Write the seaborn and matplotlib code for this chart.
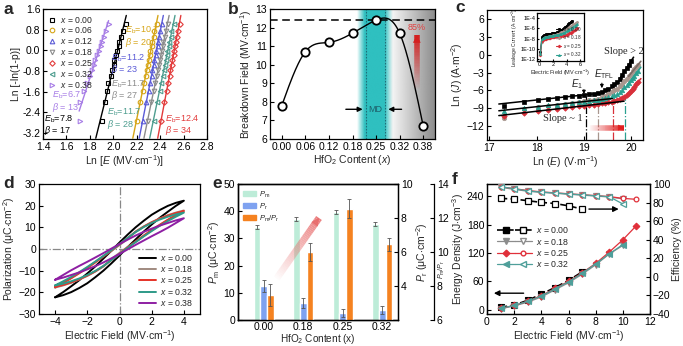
import numpy as np
import seaborn as sns
import matplotlib.pyplot as plt
import matplotlib.colors as mcolors
from matplotlib.collections import LineCollection
from matplotlib.legend_handler import HandlerTuple
from matplotlib.lines import Line2D
from matplotlib.patches import Patch

# ---------------- (a) Weibull plots ----------------
weibull_y = [-2.740, -2.013, -1.572, -1.246, -0.982, -0.755, -0.553, -0.367,
             -0.190, -0.019, 0.151, 0.327, 0.515, 0.732, 1.020]
lnE_000 = [1.905, 1.925, 1.948, 1.958, 1.980, 1.988, 2.006, 2.010, 2.027, 2.031, 2.047, 2.052, 2.068, 2.083, 2.105]
lnE_006 = [2.200, 2.226, 2.252, 2.260, 2.278, 2.284, 2.298, 2.301, 2.314, 2.317, 2.330, 2.333, 2.346, 2.351, 2.370]
lnE_012 = [2.253, 2.278, 2.303, 2.311, 2.328, 2.333, 2.347, 2.350, 2.363, 2.365, 2.378, 2.380, 2.393, 2.398, 2.416]
lnE_018 = [2.295, 2.321, 2.347, 2.355, 2.373, 2.379, 2.393, 2.396, 2.409, 2.412, 2.425, 2.428, 2.441, 2.446, 2.465]
lnE_025 = [2.410, 2.433, 2.458, 2.465, 2.482, 2.487, 2.500, 2.503, 2.515, 2.517, 2.529, 2.532, 2.544, 2.549, 2.566]
lnE_032 = [2.344, 2.370, 2.397, 2.405, 2.423, 2.429, 2.443, 2.446, 2.459, 2.462, 2.475, 2.478, 2.491, 2.496, 2.515]
lnE_038 = [1.720, 1.712, 1.754, 1.774, 1.801, 1.815, 1.836, 1.846, 1.865, 1.874, 1.892, 1.901, 1.921, 1.934, 1.962]
weibull_labels = ["0.00", "0.06", "0.12", "0.18", "0.25", "0.32", "0.38"]
eb_values = ["7.8", "10.7", "11.2", "11.7", "12.4", "11.7", "6.7"]
beta_values = ["17", "20", "23", "27", "34", "28", "13"]

# ---------------- (b) breakdown field ----------------
hfo2_content = ["0.00", "0.06", "0.12", "0.18", "0.25", "0.32", "0.38"]
breakdown_field = [7.8, 10.7, 11.2, 11.7, 12.4, 11.7, 6.7]

# ---------------- (c) leakage current ----------------
field_c = [0.1, 0.33, 0.5, 0.67, 0.83, 1.0, 1.2, 1.4, 1.6, 1.8, 2.0, 2.2, 2.4, 2.6, 2.8,
           3.0, 3.2, 3.4, 3.6, 3.8, 4.0, 4.2, 4.4, 4.6, 4.8, 5.0, 5.2, 5.4, 5.6]
lnJ_000 = [-15.0, -8.6, -7.9, -7.6, -7.4, -7.25, -7.1, -7.0, -6.9, -6.8, -6.7, -6.55, -6.4,
           -6.2, -6.0, -5.7, -5.3, -5.0, -4.6, -4.0, -3.4, -2.8, -2.3, -1.7, -1.1]
lnJ_018 = [-15.8, -10.7, -9.1, -8.8, -8.6, -8.45, -8.3, -8.15, -8.0, -7.85, -7.7, -7.55, -7.4,
           -7.2, -6.95, -6.7, -6.35, -6.0, -5.7, -5.3, -4.9, -4.5, -4.1, -3.6, -3.2, -2.8,
           -2.4, -2.0, -1.7]
lnJ_025 = [-16.3, -10.4, -9.8, -9.5, -9.3, -9.15, -9.0, -8.85, -8.7, -8.6, -8.5, -8.4, -8.3,
           -8.2, -8.1, -8.0, -7.9, -7.8, -7.65, -7.5, -7.3, -7.05, -6.8, -6.5, -6.15, -5.8,
           -5.4, -5.0, -4.6]
lnJ_032 = [-16.0, -9.5, -9.0, -8.75, -8.55, -8.4, -8.25, -8.1, -8.0, -7.9, -7.8, -7.7, -7.6,
           -7.5, -7.35, -7.2, -7.0, -6.8, -6.55, -6.25, -5.9, -5.5, -5.1, -4.7, -4.3, -3.9,
           -3.5, -3.1, -2.7]
leak_labels = ["0.00", "0.18", "0.25", "0.32"]
transition_lnE = [19.05, 19.30, 19.62, 19.87]
transition_lnJ = [-6.9, -7.5, -7.2, -7.3]

# ---------------- (d) P-E loops (rising branch) ----------------
field_loop = [-4.0, -3.5, -3.0, -2.5, -2.0, -1.5, -1.0, -0.5, 0.0, 0.5, 1.0, 1.5, 2.0, 2.5, 3.0, 3.5, 4.0]
pol_000 = [-22.3, -21.3, -19.9, -18.0, -15.8, -13.0, -10.0, -6.6, -3.0, 0.8, 4.4, 8.0, 11.3, 14.4, 17.2, 19.9, 22.3]
pol_018 = [-17.8, -16.8, -15.6, -14.1, -12.4, -10.4, -8.1, -4.6, -1.8, 0.9, 3.2, 5.9, 8.5, 11.0, 13.4, 15.7, 17.8]
pol_025 = [-17.5, -16.6, -15.4, -14.0, -12.3, -10.3, -7.9, -5.1, -2.2, 0.7, 3.5, 6.2, 8.8, 11.2, 13.5, 15.6, 17.5]
pol_032 = [-16.8, -16.0, -14.9, -13.6, -12.0, -10.1, -7.8, -5.1, -2.3, 0.5, 3.2, 5.8, 8.3, 10.7, 12.9, 14.9, 16.8]
pol_038 = [-14.2, -13.2, -12.0, -10.8, -9.4, -7.9, -6.2, -4.3, -2.3, -0.2, 1.9, 3.9, 5.9, 7.8, 9.8, 12.0, 14.2]
loop_labels = ["0.00", "0.18", "0.25", "0.32", "0.38"]

# ---------------- (e) polarization bars ----------------
content_e = ["0.00", "0.18", "0.25", "0.32"]
pm = [34.2, 37.1, 39.7, 35.2]
pm_err = [0.8, 0.7, 0.7, 0.7]
pr = [4.0, 3.0, 2.4, 2.6]
pr_err = [0.35, 0.28, 0.22, 0.24]
pm_pr = [7.45, 10.0, 12.55, 10.45]
pm_pr_err = [0.65, 0.5, 0.55, 0.4]

# ---------------- (f) energy storage ----------------
field_f = [1, 2, 3, 4, 5, 6, 7, 8, 9, 10, 11]
energy_000 = [5, 10, 20, 33, 47, 62, 80]
eff_000 = [84.5, 83.8, 82.0, 80.2, 79.0, 76.5, 73.0]
energy_018 = [2, 8, 16, 27, 42, 57, 75, 95, 118, 136]
eff_018 = [96.5, 94.2, 92.2, 91.0, 90.0, 89.0, 88.0, 87.0, 86.0, 84.0]
energy_025 = [3, 9, 18, 30, 45, 60, 78, 98, 122, 148, 178]
eff_025 = [97.0, 95.0, 93.0, 91.5, 90.5, 89.5, 88.5, 87.5, 86.5, 84.5, 83.5]
energy_032 = [3, 9, 18, 29, 44, 59, 77, 97, 118, 138]
eff_032 = [97.0, 95.0, 92.5, 91.3, 90.3, 89.3, 88.3, 87.3, 86.3, 78.5]

sns.set_style("ticks", {"xtick.direction": "in", "ytick.direction": "in"})
plt.rcParams["font.family"] = ["Liberation Sans", "DejaVu Sans"]
plt.rcParams["mathtext.fontset"] = "custom"
plt.rcParams["mathtext.rm"] = "Liberation Sans"
plt.rcParams["mathtext.it"] = "Liberation Sans:italic"
plt.rcParams["mathtext.bf"] = "Liberation Sans:bold"
plt.rcParams["axes.edgecolor"] = "black"
plt.rcParams["axes.linewidth"] = 0.9
plt.rcParams["xtick.color"] = "black"
plt.rcParams["ytick.color"] = "black"

W, H = 683, 346
fig = plt.figure(figsize=(W / 100, H / 100), dpi=100)


def px_axes(l, t, r, b):
    return fig.add_axes([l / W, 1 - b / H, (r - l) / W, (b - t) / H])


def style(ax, size=7.5):
    ax.tick_params(direction="in", length=3, width=0.8, labelsize=size, pad=2)
    for s in ax.spines.values():
        s.set_linewidth(0.9)
        s.set_color("black")


def grad_arrow(ax, x0, y0, x1, y1, color, lw, head=10, amax=1.0):
    n = 40
    xs = np.linspace(x0, x1, n + 1)
    ys = np.linspace(y0, y1, n + 1)
    segs = [[(xs[i], ys[i]), (xs[i + 1], ys[i + 1])] for i in range(n)]
    rgba = np.tile(mcolors.to_rgba(color), (n, 1))
    rgba[:, 3] = np.linspace(0.0, amax, n)
    ax.add_collection(LineCollection(segs, colors=rgba, linewidths=lw, capstyle="butt", zorder=4))
    ax.annotate("", xy=(x1, y1), xytext=(xs[-2], ys[-2]),
                arrowprops=dict(arrowstyle="-|>", color=color, alpha=amax, lw=0.5,
                                mutation_scale=head, shrinkA=0, shrinkB=0), zorder=5)


def nat_spline(x, y, xs):
    x = np.asarray(x, float)
    y = np.asarray(y, float)
    n = len(x)
    h = np.diff(x)
    A = np.zeros((n, n))
    r = np.zeros(n)
    A[0, 0] = A[-1, -1] = 1
    for i in range(1, n - 1):
        A[i, i - 1], A[i, i], A[i, i + 1] = h[i - 1], 2 * (h[i - 1] + h[i]), h[i]
        r[i] = 3 * ((y[i + 1] - y[i]) / h[i] - (y[i] - y[i - 1]) / h[i - 1])
    c = np.linalg.solve(A, r)
    b = (y[1:] - y[:-1]) / h - h * (2 * c[:-1] + c[1:]) / 3
    d = (c[1:] - c[:-1]) / (3 * h)
    idx = np.clip(np.searchsorted(x, xs) - 1, 0, n - 2)
    dx = xs - x[idx]
    return y[idx] + b[idx] * dx + c[idx] * dx ** 2 + d[idx] * dx ** 3


# ================= panel a =================
ax = px_axes(43, 9, 207, 139)
style(ax)
series_a = [lnE_000, lnE_006, lnE_012, lnE_018, lnE_025, lnE_032, lnE_038]
colors_a = ["black", "#d6a517", "#5b5bd7", "#8c8c8c", "#e23a3a", "#4e9d8f", "#a77de6"]
markers_a = ["s", "o", "^", "v", "D", "<", ">"]
for i, (lnE, lab, c, m) in enumerate(zip(series_a, weibull_labels, colors_a, markers_a)):
    sns.lineplot(x=lnE, y=weibull_y, ax=ax, estimator=None, sort=False, ls="none",
                 marker=m, ms=3.3 if m != "D" else 2.8, mfc="none", mec=c, mew=0.8,
                 color=c, label=f"$x$ = {lab}", legend=False, zorder=3)
    k, b0 = np.polyfit(weibull_y, lnE, 1)
    yy = np.array([-2.35, 1.15]) if lab == "0.38" else np.array([-3.4, 1.35])
    ax.plot(k * yy + b0, yy, color=c, lw=1.0, zorder=2)
ax.set_xlim(1.4, 2.8)
ax.set_ylim(-3.43, 1.6)
ax.set_xticks(np.arange(1.4, 2.81, 0.2))
ax.set_yticks([1.6, 0.8, 0.0, -0.8, -1.6, -2.4, -3.2])
ax.xaxis.set_major_formatter(plt.FuncFormatter(lambda v, p: f"{v:.1f}"))
ax.yaxis.set_major_formatter(plt.FuncFormatter(lambda v, p: f"{v:.1f}"))
ax.set_xlabel(r"Ln [$E$ (MV$\cdot$cm$^{-1}$)]", fontsize=7.5, labelpad=1)
ax.set_ylabel("Ln [-ln(1-p)]", fontsize=7.5, labelpad=1)
ax.legend(loc="upper left", fontsize=6.2, frameon=False, handlelength=0.8,
          handletextpad=0.5, labelspacing=0.1, borderaxespad=0.25)
text_pos_a = [(1.405, -2.43), (2.10, 0.99), (1.98, -0.08), (1.98, -1.07),
              (2.44, -2.43), (1.947, -2.19), (1.473, -1.52)]
for (tx, ty), eb, bt, c in zip(text_pos_a, eb_values, beta_values, colors_a):
    ax.text(tx, ty, r"$E_\mathrm{b}$=" + eb + "\n" + r"$\beta$ = " + bt, color=c,
            fontsize=6.5, va="top", ha="left", linespacing=0.95, zorder=4)

# ================= panel b =================
ax = px_axes(270, 9, 435, 139)
style(ax)
pos = np.arange(len(hfo2_content))
xg = np.linspace(3.2, 4.7, 200)
alpha_band = np.interp(xg, [3.2, 3.52, 4.36, 4.7], [0, 1, 1, 0])
band = np.zeros((1, len(xg), 4))
band[0, :, :3] = mcolors.to_rgb("#2fc0c0")
band[0, :, 3] = alpha_band
ax.imshow(band, extent=[3.2, 4.7, 6, 13], aspect="auto", zorder=0, interpolation="bilinear")
xg2 = np.linspace(4.5, 6.5, 200)
gray = np.zeros((1, len(xg2), 4))
gray[0, :, :3] = mcolors.to_rgb("#8a8a8a")
gray[0, :, 3] = np.linspace(0, 1, len(xg2))
ax.imshow(gray, extent=[4.5, 6.5, 6, 13], aspect="auto", zorder=0, interpolation="bilinear")
for xv in [3.56, 4.39]:
    ax.axvline(xv, color="#1d6f78", ls=(0, (1.5, 1.2)), lw=0.8, zorder=1)
ax.axhline(breakdown_field[4], color="black", ls=(0, (5, 3)), lw=1.1, zorder=2)
xs = np.linspace(0, 6, 300)
ax.plot(xs, nat_spline(pos, breakdown_field, xs), color="black", lw=1.0, zorder=3)
sns.lineplot(x=pos, y=breakdown_field, ax=ax, estimator=None, sort=False, ls="none",
             marker="o", ms=6, mfc="white", mec="black", mew=1.3, color="black",
             legend=False, zorder=4)
ax.annotate("", xy=(3.55, 7.6), xytext=(2.6, 7.6),
            arrowprops=dict(arrowstyle="-|>", color="black", lw=1.0, mutation_scale=7))
ax.annotate("", xy=(4.40, 7.6), xytext=(5.2, 7.6),
            arrowprops=dict(arrowstyle="-|>", color="black", lw=1.0, mutation_scale=7))
ax.text(3.97, 7.6, "MD", color="#1d5f6a", fontsize=6.5, ha="center", va="center")
grad_arrow(ax, 5.73, 8.6, 5.73, 11.6, "#d42020", lw=4, head=12)
ax.text(5.73, 12.0, "85%", color="#e04040", fontsize=6.5, ha="center", va="center")
ax.set_xlim(-0.5, 6.5)
ax.set_ylim(6, 13)
ax.set_xticks(pos)
ax.set_xticklabels(hfo2_content)
ax.set_yticks(range(6, 14))
ax.set_xlabel(r"HfO$_2$ Content ($x$)", fontsize=7.5, labelpad=1)
ax.set_ylabel(r"Breakdown Field (MV$\cdot$cm$^{-1}$)", fontsize=7.5, labelpad=1)

# ================= panel c =================
ax = px_axes(487, 10, 643, 140)
style(ax)
series_c = [lnJ_000, lnJ_018, lnJ_025, lnJ_032]
colors_c = ["black", "#a8968e", "#d8303a", "#2aa090"]
markers_c = ["s", "o", "D", "^"]
lnE_c = np.log(np.array(field_c) * 1e8)
for lnJ, c, m in zip(series_c, colors_c, markers_c):
    n = len(lnJ)
    sns.lineplot(x=lnE_c[:n], y=lnJ, ax=ax, estimator=None, sort=False, ls="none",
                 marker=m, ms=3.2 if m != "D" else 2.8, mfc=c, mec=c, mew=0.5,
                 color=c, legend=False, zorder=3)
# low-field (ohmic) fits for three samples
for lnJ, xend in [(lnJ_000, 19.3), (lnJ_032, 19.6), (lnJ_025, 19.85)]:
    n = len(lnJ)
    sel = (lnE_c[:n] > 17.6) & (lnE_c[:n] < 19.0)
    k, b0 = np.polyfit(lnE_c[:n][sel], np.array(lnJ)[sel], 1)
    xx = np.array([17.2, xend])
    ax.plot(xx, k * xx + b0, color="black", lw=1.1, zorder=4)
# high-field (SCLC) fits
for lnJ, c in zip(series_c, colors_c):
    n = len(lnJ)
    k, b0 = np.polyfit(lnE_c[n - 5:n], lnJ[-5:], 1)
    xx = np.array([lnE_c[n - 6], lnE_c[n - 1] + 0.06])
    ax.plot(xx, k * xx + b0, color=c if c != "#a8968e" else "#7a6a64", lw=1.2, zorder=4)
for xv, yv, c in zip(transition_lnE, transition_lnJ, colors_c):
    ax.vlines(xv, -14.4, yv, colors=c, linestyles="-.", lw=0.9, zorder=2)
ax.text(18.86, -4.9, r"$E_1$", fontsize=7, ha="center", va="center", family="Liberation Serif")
ax.annotate("", xy=(19.0, -7.1), xytext=(19.0, -5.4),
            arrowprops=dict(arrowstyle="-|>", color="black", lw=0.7, mutation_scale=5))
ax.text(19.42, -3.2, r"$E_\mathrm{TFL}$", fontsize=7, ha="center", va="center")
ax.annotate("", xy=(19.38, -6.1), xytext=(19.38, -4.3),
            arrowprops=dict(arrowstyle="-|>", color="black", lw=0.7, mutation_scale=5))
ax.text(18.55, -10.8, "Slope ~ 1", fontsize=7.5, family="Liberation Serif", ha="center", va="center")
ax.text(19.85, 0.6, "Slope > 2", fontsize=7.5, family="Liberation Serif", ha="center", va="center")
grad_arrow(ax, 19.1, -12.3, 19.85, -12.3, "#e02020", lw=4, head=9)
ax.set_xlim(16.95, 20.25)
ax.set_ylim(-14.4, 7.6)
ax.set_xticks([17, 18, 19, 20])
ax.set_yticks([6, 3, 0, -3, -6, -9, -12])
ax.set_xlabel(r"Ln ($E$) (V$\cdot$m$^{-1}$)", fontsize=7.5, labelpad=1)
ax.set_ylabel(r"Ln ($J$) (A$\cdot$m$^{-2}$)", fontsize=7.5, labelpad=1)

axi = px_axes(537, 13, 584, 61)
style(axi, size=4)
axi.tick_params(length=1.5, pad=1)
for lnJ, c, m, lab in zip(series_c, colors_c, markers_c, leak_labels):
    n = len(lnJ)
    sns.lineplot(x=field_c[:n], y=np.exp(lnJ) * 1e-4, ax=axi, estimator=None, sort=False,
                 marker=m, ms=1.3, mfc=c, mec=c, lw=0.8, color=c,
                 label=f"$x$ = {lab}", legend=False)
axi.set_yscale("log")
axi.set_xlim(-0.4, 6.6)
axi.set_ylim(10 ** -12.3, 10 ** -3)
axi.set_xticks([0, 2, 4, 6])
axi.set_yticks([1e-4, 1e-6, 1e-8, 1e-10, 1e-12])
axi.set_yticklabels(["1E-4", "1E-6", "1E-8", "1E-10", "1E-12"])
axi.minorticks_off()
axi.set_xlabel(r"Electric Field (MV$\cdot$cm$^{-1}$)", fontsize=4, labelpad=0.5)
axi.set_ylabel(r"Leakage Current (A$\cdot$cm$^{-2}$)", fontsize=3.6, labelpad=0.5)
axi.legend(loc="lower right", fontsize=3.3, frameon=False, handlelength=1.2,
           labelspacing=0.1, handletextpad=0.3, borderaxespad=0.2)

# ================= panel d =================
ax = px_axes(39, 184, 200, 314)
style(ax)
loops = [pol_000, pol_018, pol_025, pol_032, pol_038]
colors_d = ["black", "#a08a80", "#e53228", "#2e9a88", "#8e1fa3"]
ax.axhline(0, color="#888888", ls="-.", lw=0.9, zorder=1)
ax.axvline(0, color="#888888", ls="-.", lw=0.9, zorder=1)
for pol, c, lab in zip(loops, colors_d, loop_labels):
    ex = list(field_loop) + [-e for e in field_loop]
    py = list(pol) + [-p for p in pol]
    sns.lineplot(x=ex, y=py, ax=ax, estimator=None, sort=False, color=c, lw=1.4,
                 label=f"$x$ = {lab}", legend=False, zorder=3)
ax.set_xlim(-5, 5)
ax.set_ylim(-30, 30)
ax.set_xticks([-4, -2, 0, 2, 4])
ax.set_yticks([-30, -20, -10, 0, 10, 20, 30])
ax.set_xlabel(r"Electric Field (MV$\cdot$cm$^{-1}$)", fontsize=7.5, labelpad=1)
ax.set_ylabel(r"Polarization (μC$\cdot$cm$^{-2}$)", fontsize=7.5, labelpad=1)
ax.legend(loc="lower right", fontsize=6.3, frameon=False, handlelength=2.0,
          labelspacing=0.15, handletextpad=0.5, borderaxespad=0.3)

# ================= panel e =================
ax = px_axes(238, 184, 398, 320)
style(ax)
ax.tick_params(axis="x", pad=1.2)
ax2 = ax.twinx()
ax3 = ax.twinx()
ax3.spines["right"].set_position(("outward", 26))
style(ax2)
style(ax3)
xe = np.arange(len(content_e))
wbar = 0.17
ekw = dict(ecolor="#555555", elinewidth=0.6, capsize=1.2, capthick=0.6)
ax.bar(xe - 0.17, pm, wbar, yerr=pm_err, color="#bdecd8", error_kw=ekw, zorder=2)
ax2.bar(xe, pr, wbar, yerr=pr_err, color="#7fa2f0", error_kw=ekw, zorder=2)
ax3.bar(xe + 0.17, pm_pr, wbar, yerr=pm_pr_err, color="#f58220", error_kw=ekw, zorder=2)
ax.set_ylim(0, 50)
ax2.set_ylim(2, 10)
ax3.set_ylim(6, 14)
ax.set_xlim(-0.65, 3.4)
ax.set_xticks(xe)
ax.set_xticklabels(content_e)
ax.set_yticks(range(0, 51, 10))
ax2.set_yticks([4, 6, 8, 10])
ax3.set_yticks([6, 8, 10, 12, 14])
ax.set_xlabel(r"HfO$_2$ Content (x)", fontsize=7.2, labelpad=0)
ax.set_ylabel(r"$P_\mathrm{m}$ (μC$\cdot$cm$^{-2}$)", fontsize=7.5, labelpad=1)
ax2.set_ylabel(r"$P_\mathrm{r}$ (μC$\cdot$cm$^{-2}$)", fontsize=7.5, labelpad=1)
ax3.set_ylabel(r"$P_\mathrm{m}$/$P_\mathrm{r}$", fontsize=5.0, labelpad=0)
ax3.yaxis.set_label_coords(1.245, 0.375)
grad_arrow(ax, 0.30, 14.7, 1.40, 37.5, "#e86a6a", lw=5, head=12, amax=0.85)
handles_e = [Patch(color="#bdecd8"), Patch(color="#7fa2f0"), Patch(color="#f58220")]
ax.legend(handles_e, [r"$P_\mathrm{m}$", r"$P_\mathrm{r}$", r"$P_\mathrm{m}$/$P_\mathrm{r}$"],
          loc="upper left", fontsize=5.5, frameon=False, handlelength=1.6, handleheight=0.6,
          labelspacing=0.25, handletextpad=0.4, borderaxespad=0.3)

# ================= panel f =================
ax = px_axes(487, 184, 650, 314)
style(ax)
axr = ax.twinx()
style(axr)
energies = [energy_000, energy_018, energy_025, energy_032]
effs = [eff_000, eff_018, eff_025, eff_032]
colors_f = ["black", "#8c8c8c", "#e0303a", "#4f9f9a"]
markers_f = ["s", "v", "D", "<"]
handles_f = []
for en, ef, c, m, lab in zip(energies, effs, colors_f, markers_f, leak_labels):
    ls = (0, (4, 2)) if c == "black" else "-"
    lw = 1.2 if c == "black" else 0.9
    ms = 4 if m != "D" else 3.4
    sns.lineplot(x=field_f[:len(en)], y=en, ax=ax, estimator=None, sort=False, color=c,
                 lw=lw, ls=ls, marker=m, ms=ms, mfc=c, mec=c, mew=0.8, legend=False, zorder=3)
    sns.lineplot(x=field_f[:len(ef)], y=ef, ax=axr, estimator=None, sort=False, color=c,
                 lw=lw, ls=ls, marker=m if m != "D" else "o", ms=ms, mfc="white", mec=c,
                 mew=0.9, legend=False, zorder=3)
    h1 = Line2D([], [], color=c, lw=lw, ls=ls, marker=m, ms=ms, mfc=c, mec=c)
    h2 = Line2D([], [], color=c, lw=lw, ls=ls, marker=m if m != "D" else "o", ms=ms,
                mfc="white", mec=c)
    handles_f.append((h1, h2))
ax.set_xlim(0, 12)
ax.set_ylim(-9, 266)
axr.set_ylim(-40, 100)
ax.set_xticks(range(0, 13, 2))
ax.set_yticks([0, 60, 120, 180, 240])
axr.set_yticks(range(-40, 101, 20))
ax.annotate("", xy=(0.3, 35), xytext=(2.9, 35),
            arrowprops=dict(arrowstyle="-|>", color="black", lw=1.0, mutation_scale=8))
axr.annotate("", xy=(9.9, 73), xytext=(7.3, 73),
             arrowprops=dict(arrowstyle="-|>", color="black", lw=1.0, mutation_scale=8))
ax.set_xlabel(r"Electric Field (MV$\cdot$cm$^{-1}$)", fontsize=7.5, labelpad=1)
ax.set_ylabel(r"Energy Density (J$\cdot$cm$^{-3}$)", fontsize=7.5, labelpad=0.5)
axr.set_ylabel("Efficiency (%)", fontsize=7.5, labelpad=1)
ax.legend(handles_f, [f"$x$ = {l}" for l in leak_labels], loc="upper left",
          bbox_to_anchor=(0.04, 0.71), fontsize=6.3, frameon=False,
          handler_map={tuple: HandlerTuple(ndivide=None, pad=0.0)}, handlelength=4.0,
          labelspacing=0.15, handletextpad=0.5, borderaxespad=0)

# panel letters
for lab, x, y in [("a", 3, 9), ("b", 228, 9), ("c", 455, 8), ("d", 3, 184),
                  ("e", 212, 184), ("f", 452, 180)]:
    fig.text(x / W, 1 - y / H, lab, fontsize=12.5, fontweight="bold", ha="left", va="center")

fig.savefig("out.png", dpi=100)
